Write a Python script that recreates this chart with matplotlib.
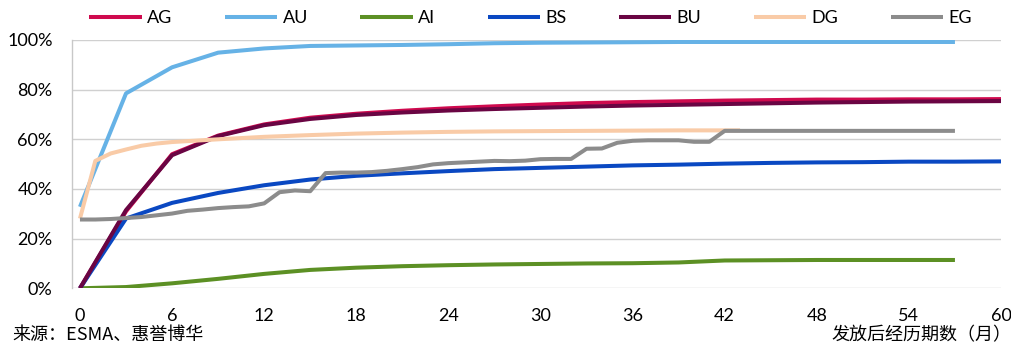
import matplotlib
matplotlib.use("Agg")
import matplotlib.pyplot as plt
from matplotlib.ticker import FuncFormatter

plt.rcParams['font.family'] = ['Lato', 'Noto Sans CJK SC', 'DejaVu Sans']

# Months since issuance for quarterly series
q57 = [0, 3, 6, 9, 12, 15, 18, 21, 24, 27, 30, 33, 36, 39, 42, 45, 48, 51, 54, 57]
q60 = q57 + [60]

# Cumulative values (%)
ag = [0, 31.0, 54.0, 61.5, 66.0, 68.7, 70.3, 71.5, 72.5, 73.3, 74.0, 74.6, 75.0,
      75.3, 75.6, 75.8, 76.0, 76.0, 76.1, 76.1, 76.2]
au = [32.8, 78.5, 89.0, 94.9, 96.6, 97.6, 97.8, 98.0, 98.3, 98.7, 98.9, 99.0, 99.1,
      99.2, 99.2, 99.2, 99.2, 99.2, 99.2, 99.2]
ai = [0, 0.5, 2.0, 3.8, 5.8, 7.4, 8.3, 8.9, 9.3, 9.6, 9.8, 10.0, 10.1, 10.4, 11.2,
      11.3, 11.4, 11.4, 11.4, 11.4]
bs = [0, 28.1, 34.4, 38.4, 41.5, 43.8, 45.3, 46.3, 47.2, 48.0, 48.5, 49.0, 49.5,
      49.8, 50.2, 50.5, 50.7, 50.8, 51.0, 51.0, 51.1]
bu = [0, 31.5, 53.6, 61.3, 65.7, 68.2, 69.8, 70.8, 71.6, 72.2, 72.7, 73.2, 73.6,
      73.9, 74.2, 74.5, 74.8, 75.0, 75.2, 75.3, 75.4]

dg_x = [0, 1, 2, 3, 4, 5, 6, 9, 12, 15, 18, 21, 24, 27, 30, 33, 36, 39, 42, 43]
dg = [28.1, 51.3, 54.3, 55.9, 57.4, 58.3, 58.9, 60.0, 61.0, 61.7, 62.3, 62.7, 63.0,
      63.2, 63.3, 63.4, 63.5, 63.6, 63.6, 63.6]

eg_x = list(range(0, 58))
eg = [27.7, 27.7, 27.9, 28.3, 28.7, 29.4, 30.1, 31.2, 31.7, 32.3, 32.7, 33.0, 34.2,
      38.7, 39.4, 39.1, 46.4, 46.6, 46.6, 46.8, 47.3, 48.0, 48.8, 49.9, 50.4, 50.7,
      51.0, 51.3, 51.2, 51.4, 52.0, 52.1, 52.1, 56.2, 56.3, 58.6, 59.4, 59.6, 59.6,
      59.6, 59.0, 59.0, 63.4, 63.4, 63.4, 63.4, 63.4, 63.4, 63.4, 63.4, 63.4, 63.4,
      63.4, 63.4, 63.4, 63.4, 63.4, 63.4]

series = [
    ("AG", q60, ag, "#CF0A4E"),
    ("AU", q57, au, "#66B2E6"),
    ("AI", q57, ai, "#5C9024"),
    ("BS", q60, bs, "#0A48C2"),
    ("BU", q60, bu, "#6A0543"),
    ("DG", dg_x, dg, "#F9CBA7"),
    ("EG", eg_x, eg, "#8C8C8C"),
]

x_ticks = [0, 6, 12, 18, 24, 30, 36, 42, 48, 54, 60]
y_ticks = [0, 20, 40, 60, 80, 100]

fig = plt.figure(figsize=(10.11, 3.43), dpi=100)
ax = fig.add_axes([0.0712, 0.1595, 0.9189, 0.7239])

for name, xs, ys, color in series:
    ax.plot(xs, [v / 100 for v in ys], color=color, lw=2.9, label=name,
            solid_joinstyle='round', solid_capstyle='butt')

ax.set_xlim(-0.52, 60.0)
ax.set_ylim(0, 1.0)
ax.set_xticks(x_ticks)
ax.set_yticks([v / 100 for v in y_ticks])
ax.yaxis.set_major_formatter(FuncFormatter(lambda v, p: f"{v * 100:.0f}%"))
ax.grid(axis='y', color='#D0D0D0', lw=1.0)
ax.set_axisbelow(True)
for s in ['top', 'right', 'bottom']:
    ax.spines[s].set_visible(False)
ax.spines['left'].set_color('#C8C8C8')
ax.spines['left'].set_linewidth(1.0)
ax.tick_params(length=0, labelsize=13, colors='#000000')
ax.tick_params(axis='x', pad=14)
ax.tick_params(axis='y', pad=14)

fig.legend(loc='center', bbox_to_anchor=(0.525, 0.947), ncol=7, frameon=False,
           fontsize=13, handlelength=2.9, handletextpad=0.3, columnspacing=2.9)

fig.text(12 / 1011, 0.024, "来源：ESMA、惠誉博华", fontsize=13, ha='left', va='center',
         family=['Noto Sans CJK SC', 'DejaVu Sans'])
fig.text(1.0, 0.024, "发放后经历期数（月）", fontsize=13, ha='right', va='center',
         family=['Noto Sans CJK SC', 'DejaVu Sans'])

fig.savefig("out.png", dpi=100)
